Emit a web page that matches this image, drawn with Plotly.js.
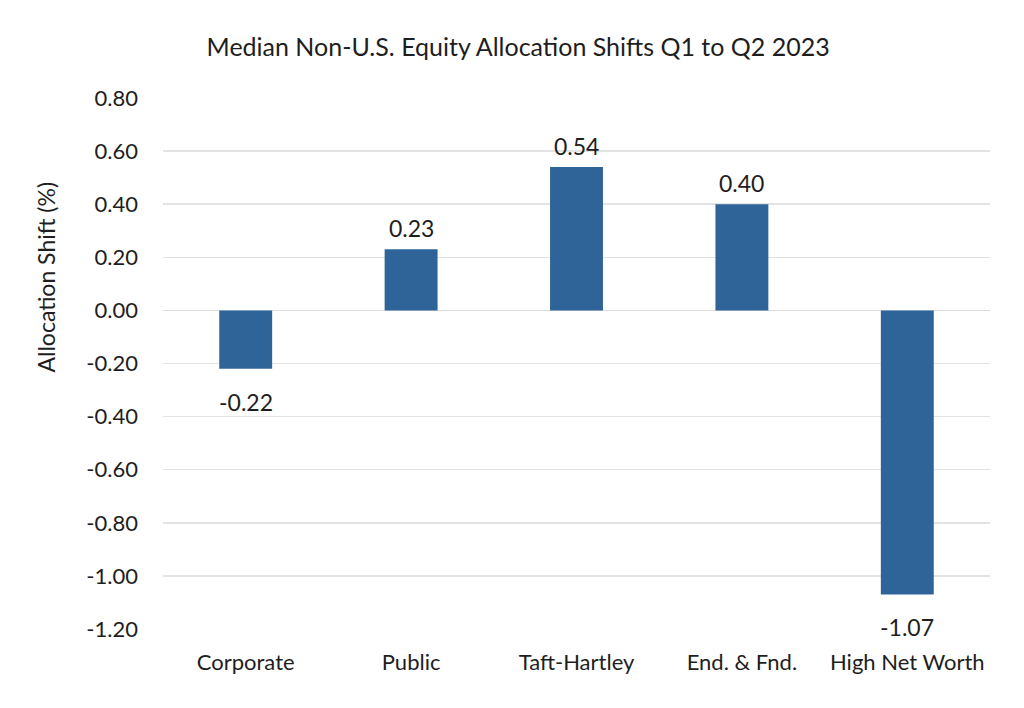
<!DOCTYPE html>
<html>
<head>
<meta charset="utf-8">
<script src="https://cdn.plot.ly/plotly-3.0.1.min.js"></script>
<style>html,body{margin:0;padding:0;background:#fff;}#chart{width:1024px;height:708px;}</style>
</head>
<body>
<div id="chart"></div>
<script>
const categories = ["Corporate", "Public", "Taft-Hartley", "End. & Fnd.", "High Net Worth"];
const shifts = [-0.22, 0.23, 0.54, 0.40, -1.07];
const tickValues = [0.8, 0.6, 0.4, 0.2, 0, -0.2, -0.4, -0.6, -0.8, -1.0, -1.2];
const tickLabels = ["0.80", "0.60", "0.40", "0.20", "0.00", "-0.20", "-0.40", "-0.60", "-0.80", "-1.00", "-1.20"];

const FONT = "Lato, 'Open Sans', sans-serif";
const TXT = "#1e1e1e";

const trace = {
  type: "bar",
  x: categories,
  y: shifts,
  marker: {color: "#2E6497"},
  cliponaxis: false,
  hoverinfo: "x+y"
};

const valueLabels = categories.map((c, i) => ({
  x: c,
  y: shifts[i],
  xref: "x", yref: "y",
  text: shifts[i].toFixed(2),
  showarrow: false,
  xanchor: "center",
  yanchor: "middle",
  yshift: shifts[i] >= 0 ? 21 : -33,
  font: {family: FONT, size: 23, color: TXT}
}));

const layout = {
  width: 1024,
  height: 708,
  margin: {l: 163, r: 34, t: 98, b: 79},
  paper_bgcolor: "#fff",
  plot_bgcolor: "#fff",
  bargap: 0.68,
  showlegend: false,
  font: {family: FONT, color: TXT},
  title: {
    text: "Median Non-U.S. Equity Allocation Shifts Q1 to Q2 2023",
    font: {family: FONT, size: 25, color: TXT},
    xref: "container", x: 0.506, xanchor: "center",
    yref: "container", y: 0.933, yanchor: "middle"
  },
  xaxis: {
    showgrid: false,
    zeroline: false,
    showline: false,
    ticks: "",
    tickfont: {family: FONT, size: 22, color: TXT},
    ticklabelstandoff: 18
  },
  yaxis: {
    range: [-1.2, 0.8],
    tickvals: tickValues,
    ticktext: tickLabels,
    showgrid: true,
    gridcolor: "#e3e3e3",
    gridwidth: 1.5,
    zeroline: true,
    zerolinecolor: "#dcdcdc",
    zerolinewidth: 1.5,
    showline: false,
    ticks: "",
    tickfont: {family: FONT, size: 22, color: TXT},
    ticklabelstandoff: 24
  },
  annotations: valueLabels.concat([{
    text: "Allocation Shift (%)",
    textangle: -90,
    xref: "paper", yref: "paper",
    x: -0.142, y: 0.663,
    xanchor: "center", yanchor: "middle",
    showarrow: false,
    font: {family: FONT, size: 23, color: TXT}
  }])
};

Plotly.newPlot("chart", [trace], layout, {displayModeBar: false, staticPlot: true});
</script>
</body>
</html>
